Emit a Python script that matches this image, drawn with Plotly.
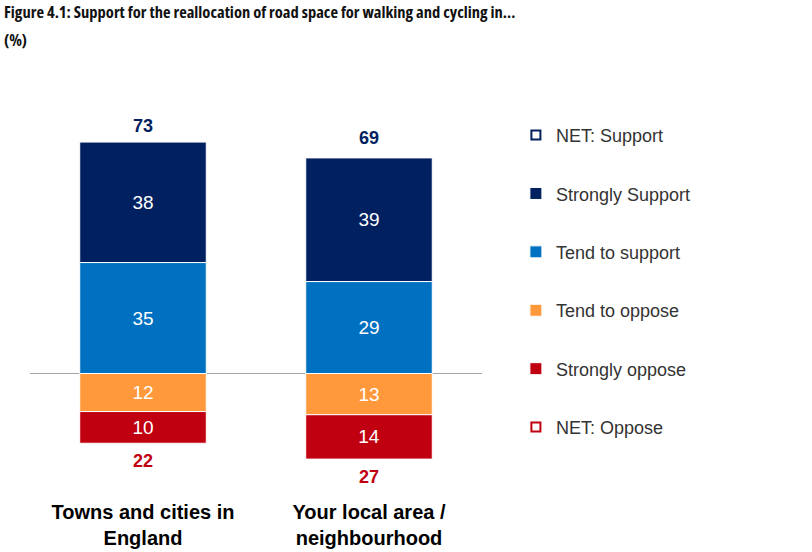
import plotly.graph_objects as go

categories = ["Towns and cities in<br>England", "Your local area /<br>neighbourhood"]
strongly_support = [38, 39]
tend_support = [35, 29]
tend_oppose = [12, 13]
strongly_oppose = [10, 14]
net_support = [73, 69]
net_oppose = [22, 27]
title_lines = ["Figure 4.1: Support for the reallocation of road space for walking and cycling in…", "(%)"]

NAVY = "#002060"
BLUE = "#0070C0"
ORANGE = "#FF993C"
RED = "#C00010"
FONT = "Liberation Sans, Arial"

fig = go.Figure()

def bar(name, vals, sign, color, rank):
    fig.add_trace(go.Bar(
        x=categories, y=[sign * v for v in vals], name=name,
        text=[str(v) for v in vals], textposition="inside", insidetextanchor="middle",
        textfont=dict(color="white", size=19, family=FONT),
        marker=dict(color=color, line=dict(color="white", width=1)),
        width=0.56, legendgroup=name, legendrank=rank, hoverinfo="skip",
    ))

bar("Tend to support", tend_support, 1, BLUE, 3)
bar("Strongly Support", strongly_support, 1, NAVY, 2)
bar("Tend to oppose", tend_oppose, -1, ORANGE, 4)
bar("Strongly oppose", strongly_oppose, -1, RED, 5)

# legend-only hollow markers
fig.add_trace(go.Scatter(x=[None], y=[None], mode="markers", name="NET: Support",
    marker=dict(symbol="square", size=9, color="white", line=dict(color=NAVY, width=2)),
    legendgroup="ns", legendrank=1))
fig.add_trace(go.Scatter(x=[None], y=[None], mode="markers", name="NET: Oppose",
    marker=dict(symbol="square", size=9, color="white", line=dict(color=RED, width=2)),
    legendgroup="no", legendrank=6))

annotations = []
for c, v, ys in zip(categories, net_support, [4, 5]):
    annotations.append(dict(x=c, y=v, text=str(v), showarrow=False, yanchor="bottom", yshift=ys,
                            font=dict(color=NAVY, size=18, family=FONT, weight="bold")))
for c, v in zip(categories, net_oppose):
    annotations.append(dict(x=c, y=-v, text=str(v), showarrow=False, yanchor="top", yshift=-6,
                            font=dict(color=RED, size=18, family=FONT, weight="bold")))
title_style = "font-stretch:condensed"
for line, ypx in zip(title_lines, [12, 40]):
    annotations.append(dict(
        text=f"<span style='{title_style}'>{line}</span>",
        xref="paper", yref="paper", x=-28 / 452, y=1 + (104 - ypx) / 390, xanchor="left", yanchor="middle",
        align="left", showarrow=False,
        font=dict(size=16.5, color="#111111", family="Open Sans", weight="bold")))

fig.update_layout(
    width=812, height=552,
    margin=dict(l=30, r=330, t=104, b=58),
    paper_bgcolor="white", plot_bgcolor="white",
    barmode="relative", bargap=0.44,
    annotations=annotations,
    legend=dict(x=1.075, xanchor="left", y=0.967, yanchor="top", tracegroupgap=32, maxheight=1,
                font=dict(size=18, color="#333333", family=FONT),
                bgcolor="rgba(0,0,0,0)", traceorder="grouped"),
    showlegend=True,
)
fig.update_xaxes(showgrid=False, showline=False, ticks="", ticklabelstandoff=4, automargin=False,
                 tickfont=dict(size=20, color="black", family=FONT, weight="bold"))
fig.update_yaxes(range=[-38, 85], showgrid=False, showticklabels=False, zeroline=True, automargin=False,
                 zerolinecolor="#A6A6A6", zerolinewidth=1)

fig.write_html("out.html")
